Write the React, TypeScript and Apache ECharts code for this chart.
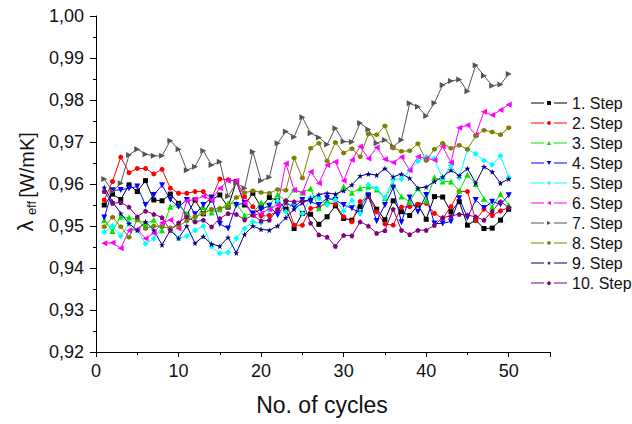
import React, { useEffect, useRef } from "react";
import * as echarts from "echarts";

const cycles = [
  1, 2, 3, 4, 5, 6, 7, 8, 9, 10, 11, 12, 13, 14, 15, 16, 17, 18, 19, 20, 21, 22, 23, 24, 25,
  26, 27, 28, 29, 30, 31, 32, 33, 34, 35, 36, 37, 38, 39, 40, 41, 42, 43, 44, 45, 46, 47, 48, 49, 50,
];

const step1 = [
  0.955, 0.9576, 0.9563, 0.9598, 0.9582, 0.9608, 0.9562, 0.956, 0.9576, 0.9554,
  0.9526, 0.9562, 0.9529, 0.9562, 0.9574, 0.9545, 0.9606, 0.955, 0.9578, 0.9545,
  0.9568, 0.956, 0.954, 0.9494, 0.953, 0.9528, 0.9504, 0.9522, 0.9548, 0.9518,
  0.9514, 0.9546, 0.9574, 0.954, 0.9515, 0.956, 0.9534, 0.9525, 0.955, 0.9516,
  0.957, 0.9569, 0.9534, 0.9558, 0.9502, 0.9514, 0.9494, 0.9495, 0.9514, 0.954,
];
const step2 = [
  0.9562, 0.9606, 0.9664, 0.9627, 0.9637, 0.9637, 0.9624, 0.9635, 0.959, 0.9578,
  0.9578, 0.9582, 0.9582, 0.9565, 0.9612, 0.961, 0.9607, 0.957, 0.9546, 0.9524,
  0.9525, 0.9535, 0.956, 0.9502, 0.9502, 0.9542, 0.9545, 0.9555, 0.9552, 0.9522,
  0.951, 0.9558, 0.957, 0.9534, 0.9505, 0.9502, 0.9545, 0.9546, 0.9552, 0.9554,
  0.953, 0.9518, 0.9546, 0.9582, 0.9582, 0.9514, 0.954, 0.9525, 0.9536, 0.9544,
];
const step3 = [
  0.9514, 0.9488, 0.9522, 0.952, 0.9516, 0.9505, 0.9515, 0.949, 0.9546, 0.955,
  0.953, 0.9514, 0.9545, 0.9532, 0.954, 0.9554, 0.9554, 0.9525, 0.953, 0.9556,
  0.955, 0.9575, 0.956, 0.9587, 0.958, 0.9589, 0.9542, 0.956, 0.9568, 0.9594,
  0.9579, 0.959, 0.9594, 0.9587, 0.9566, 0.9598, 0.957, 0.9558, 0.959, 0.956,
  0.9616, 0.9606, 0.9606, 0.9584, 0.9622, 0.96, 0.9565, 0.9546, 0.9576, 0.955,
];
const step4 = [
  0.952, 0.9585, 0.9586, 0.959, 0.9594, 0.955, 0.9574, 0.9597, 0.9563, 0.9546,
  0.9562, 0.9528, 0.955, 0.9568, 0.9505, 0.9494, 0.955, 0.9555, 0.953, 0.954,
  0.9548, 0.9526, 0.9555, 0.9545, 0.9562, 0.9558, 0.955, 0.9566, 0.9562, 0.955,
  0.9542, 0.953, 0.9572, 0.9512, 0.955, 0.9591, 0.9509, 0.9568, 0.9534, 0.9574,
  0.9506, 0.9506, 0.9511, 0.9566, 0.952, 0.9562, 0.9543, 0.9558, 0.9552, 0.9573,
];
const step5 = [
  0.9485, 0.95, 0.9476, 0.9506, 0.9489, 0.9458, 0.947, 0.9498, 0.9495, 0.947,
  0.9476, 0.949, 0.95, 0.9451, 0.9435, 0.9437, 0.9471, 0.9494, 0.951, 0.9508,
  0.9538, 0.956, 0.9534, 0.9554, 0.953, 0.9568, 0.9566, 0.955, 0.9562, 0.9536,
  0.9561, 0.953, 0.9598, 0.959, 0.9568, 0.9611, 0.9612, 0.9632, 0.9654, 0.9664,
  0.9661, 0.9612, 0.9645, 0.9615, 0.9682, 0.9672, 0.9656, 0.9646, 0.9667, 0.9616,
];
const step6 = [
  0.9459, 0.946, 0.9447, 0.9489, 0.9492, 0.947, 0.9483, 0.9508, 0.9514, 0.9494,
  0.956, 0.9563, 0.9571, 0.9562, 0.959, 0.9608, 0.9608, 0.9555, 0.9525, 0.953,
  0.954, 0.955, 0.9649, 0.9586, 0.9579, 0.9629, 0.9602, 0.9645, 0.9653, 0.9608,
  0.9657, 0.9689, 0.9661, 0.9687, 0.9659, 0.9651, 0.9664, 0.9633, 0.9665, 0.9661,
  0.9657, 0.9689, 0.9651, 0.9734, 0.974, 0.9717, 0.9772, 0.9764, 0.9776, 0.9789,
];
const step7 = [
  0.9612, 0.9582, 0.9602, 0.9669, 0.9683, 0.9671, 0.9667, 0.9667, 0.9703, 0.9683,
  0.9633, 0.9641, 0.9679, 0.9645, 0.9653, 0.9571, 0.9602, 0.959, 0.9677, 0.9608,
  0.9616, 0.9697, 0.9725, 0.9712, 0.9759, 0.9721, 0.9711, 0.9694, 0.9733, 0.9701,
  0.97, 0.9745, 0.973, 0.9697, 0.9705, 0.9689, 0.9705, 0.9792, 0.9784, 0.9762,
  0.9793, 0.9836, 0.9845, 0.9849, 0.9821, 0.9883, 0.9858, 0.9834, 0.9837, 0.9862,
];
const step8 = [
  0.9498, 0.9521, 0.9498, 0.9473, 0.9516, 0.9494, 0.95, 0.9498, 0.9495, 0.95,
  0.9512, 0.9522, 0.953, 0.954, 0.9542, 0.9546, 0.9568, 0.9579, 0.9584, 0.958,
  0.9578, 0.9587, 0.9585, 0.9662, 0.9614, 0.9685, 0.9697, 0.9655, 0.9699, 0.9674,
  0.9684, 0.9665, 0.9719, 0.9717, 0.9738, 0.9686, 0.9678, 0.9679, 0.9696, 0.9656,
  0.9683, 0.9697, 0.9685, 0.9692, 0.9683, 0.9714, 0.9728, 0.9724, 0.9717, 0.9734,
];
const step9 = [
  0.9592, 0.9558, 0.953, 0.9506, 0.949, 0.951, 0.949, 0.9455, 0.949, 0.9471,
  0.95, 0.9459, 0.9475, 0.9457, 0.9452, 0.9473, 0.9436, 0.948, 0.95, 0.9492,
  0.949, 0.95, 0.952, 0.954, 0.9555, 0.9565, 0.9575, 0.9578, 0.9576, 0.9584,
  0.9598, 0.9619, 0.9624, 0.9621, 0.9637, 0.9617, 0.9624, 0.9614, 0.959, 0.9593,
  0.9606, 0.9617, 0.9633, 0.962, 0.9637, 0.9602, 0.9641, 0.9629, 0.9602, 0.9612,
];
const step10 = [
  0.9582, 0.9554, 0.9556, 0.9545, 0.9522, 0.9536, 0.9528, 0.952, 0.949, 0.9508,
  0.9522, 0.951, 0.9514, 0.9498, 0.9518, 0.953, 0.9528, 0.9515, 0.9526, 0.9512,
  0.9514, 0.954, 0.956, 0.9558, 0.956, 0.9507, 0.9479, 0.9474, 0.9452, 0.9478,
  0.9477, 0.951, 0.95, 0.9483, 0.9489, 0.954, 0.949, 0.948, 0.949, 0.949,
  0.9502, 0.952, 0.9524, 0.9528, 0.9526, 0.9522, 0.9514, 0.9535, 0.9558, 0.9544,
];

const stepNames = [
  "1. Step", "2. Step", "3. Step", "4. Step", "5. Step",
  "6. Step", "7. Step", "8. Step", "9. Step", "10. Step",
];
const stepColors = [
  "#000000", "#ff0000", "#00e600", "#0000ff", "#00ffff",
  "#ff00ff", "#555555", "#808000", "#000080", "#800080",
];

const HEX = "path://M0.5,0 L1,0.25 L1,0.75 L0.5,1 L0,0.75 L0,0.25 Z";
const STAR =
  "path://M0.5,0 L0.618,0.362 L1,0.362 L0.691,0.585 L0.809,0.95 L0.5,0.725 L0.191,0.95 L0.309,0.585 L0,0.362 L0.382,0.362 Z";
const PENT = "path://M0.5,0 L1,0.363 L0.809,0.951 L0.191,0.951 L0,0.363 Z";

const stepSymbols = [
  { symbol: "rect", size: 5, rotate: 0 },
  { symbol: "circle", size: 5, rotate: 0 },
  { symbol: "triangle", size: 6, rotate: 0 },
  { symbol: "triangle", size: 6, rotate: 180 },
  { symbol: "diamond", size: 6, rotate: 0 },
  { symbol: "triangle", size: 6, rotate: 90 },
  { symbol: "triangle", size: 6, rotate: -90 },
  { symbol: HEX, size: 5, rotate: 0 },
  { symbol: STAR, size: 6, rotate: 0 },
  { symbol: PENT, size: 5, rotate: 0 },
];

// legend icons: thin line, gap, marker, gap, thin line (36 x 4 box)
const LINES = "M0,1.5 H13 V2.5 H0 Z M23,1.5 H36 V2.5 H23 Z ";
const legendMarkers = [
  "M16,0 H20 V4 H16 Z",
  "M16,2 A2,2 0 1,0 20,2 A2,2 0 1,0 16,2 Z",
  "M18,0 L20.3,4 L15.7,4 Z",
  "M15.7,0 L20.3,0 L18,4 Z",
  "M18,0 L20,2 L18,4 L16,2 Z",
  "M16,2 L20,0 L20,4 Z",
  "M20,2 L16,0 L16,4 Z",
  "M18,0 L19.8,1 L19.8,3 L18,4 L16.2,3 L16.2,1 Z",
  "M18,0 L18.47,1.45 L20,1.45 L18.76,2.34 L19.24,3.8 L18,2.9 L16.76,3.8 L17.24,2.34 L16,1.45 L17.53,1.45 Z",
  "M18,0 L20,1.45 L19.24,3.8 L16.76,3.8 L16,1.45 Z",
];

const allSteps = [step1, step2, step3, step4, step5, step6, step7, step8, step9, step10];

const FONT = "Arial, 'Liberation Sans', Helvetica, sans-serif";

export default function App() {
  const ref = useRef<HTMLDivElement>(null);

  useEffect(() => {
    if (!ref.current) return;
    const chart = echarts.init(ref.current, null, { renderer: "svg" });

    const series = allSteps.map((vals, k) => ({
      name: stepNames[k],
      type: "line",
      data: cycles.map((c, i) => [c, vals[i]]),
      symbol: stepSymbols[k].symbol,
      symbolSize: stepSymbols[k].size,
      symbolRotate: stepSymbols[k].rotate,
      showAllSymbol: true,
      lineStyle: { color: stepColors[k], width: 1 },
      itemStyle: { color: stepColors[k], borderWidth: 0 },
      emphasis: { disabled: true },
    }));

    chart.setOption({
      animation: false,
      backgroundColor: "#ffffff",
      textStyle: { fontFamily: FONT },
      grid: { left: 96, right: 82, top: 16, bottom: 72 },
      legend: {
        orient: "vertical",
        left: 531,
        top: 95,
        padding: 0,
        itemWidth: 36,
        itemHeight: 4,
        itemGap: 4,
        symbolKeepAspect: true,
        itemStyle: { borderWidth: 0 },
        data: stepNames.map((n, k) => ({ name: n, icon: "path://" + LINES + legendMarkers[k] })),
        textStyle: { fontFamily: FONT, fontSize: 16, color: "#111", lineHeight: 16 },
      },
      xAxis: {
        type: "value",
        min: 0,
        max: 55,
        interval: 10,
        axisLine: { show: true, onZero: false, lineStyle: { color: "#000", width: 1 } },
        axisTick: { show: true, inside: false, length: 5, lineStyle: { color: "#000" } },
        minorTick: { show: true, splitNumber: 2, length: 3, lineStyle: { color: "#000" } },
        splitLine: { show: false },
        minorSplitLine: { show: false },
        axisLabel: {
          fontFamily: FONT,
          fontSize: 18,
          color: "#111",
          margin: 10,
          showMaxLabel: false,
        },
      },
      yAxis: {
        type: "value",
        min: 0.92,
        max: 1.0,
        interval: 0.01,
        axisLine: { show: true, onZero: false, lineStyle: { color: "#000", width: 1 } },
        axisTick: { show: true, inside: false, length: 6, lineStyle: { color: "#000" } },
        minorTick: { show: true, splitNumber: 2, length: 3, lineStyle: { color: "#000" } },
        splitLine: { show: false },
        minorSplitLine: { show: false },
        axisLabel: {
          fontFamily: FONT,
          fontSize: 18,
          color: "#111",
          margin: 12,
          formatter: (v: number) => v.toFixed(2).replace(".", ","),
        },
      },
      graphic: [
        {
          type: "text",
          x: 322,
          y: 405,
          style: {
            text: "No. of cycles",
            fontFamily: FONT,
            fontSize: 23,
            fill: "#111",
            align: "center",
            verticalAlign: "middle",
          },
        },
        {
          type: "text",
          x: 25,
          y: 226,
          rotation: Math.PI / 2,
          style: {
            text: "λ",
            fontFamily: FONT,
            fontSize: 22,
            fill: "#111",
            align: "center",
            verticalAlign: "middle",
          },
        },
        {
          type: "text",
          x: 31,
          y: 208,
          rotation: Math.PI / 2,
          style: {
            text: "eff",
            fontFamily: FONT,
            fontSize: 13,
            fill: "#111",
            align: "center",
            verticalAlign: "middle",
          },
        },
        {
          type: "text",
          x: 27,
          y: 165,
          rotation: Math.PI / 2,
          style: {
            text: "[W/mK]",
            fontFamily: FONT,
            fontSize: 20,
            fill: "#111",
            align: "center",
            verticalAlign: "middle",
          },
        },
      ],
      series,
    });

    return () => chart.dispose();
  }, []);

  return (
    <div
      ref={ref}
      style={{ position: "fixed", left: 0, top: 0, width: 632, height: 424, background: "#fff" }}
    />
  );
}
